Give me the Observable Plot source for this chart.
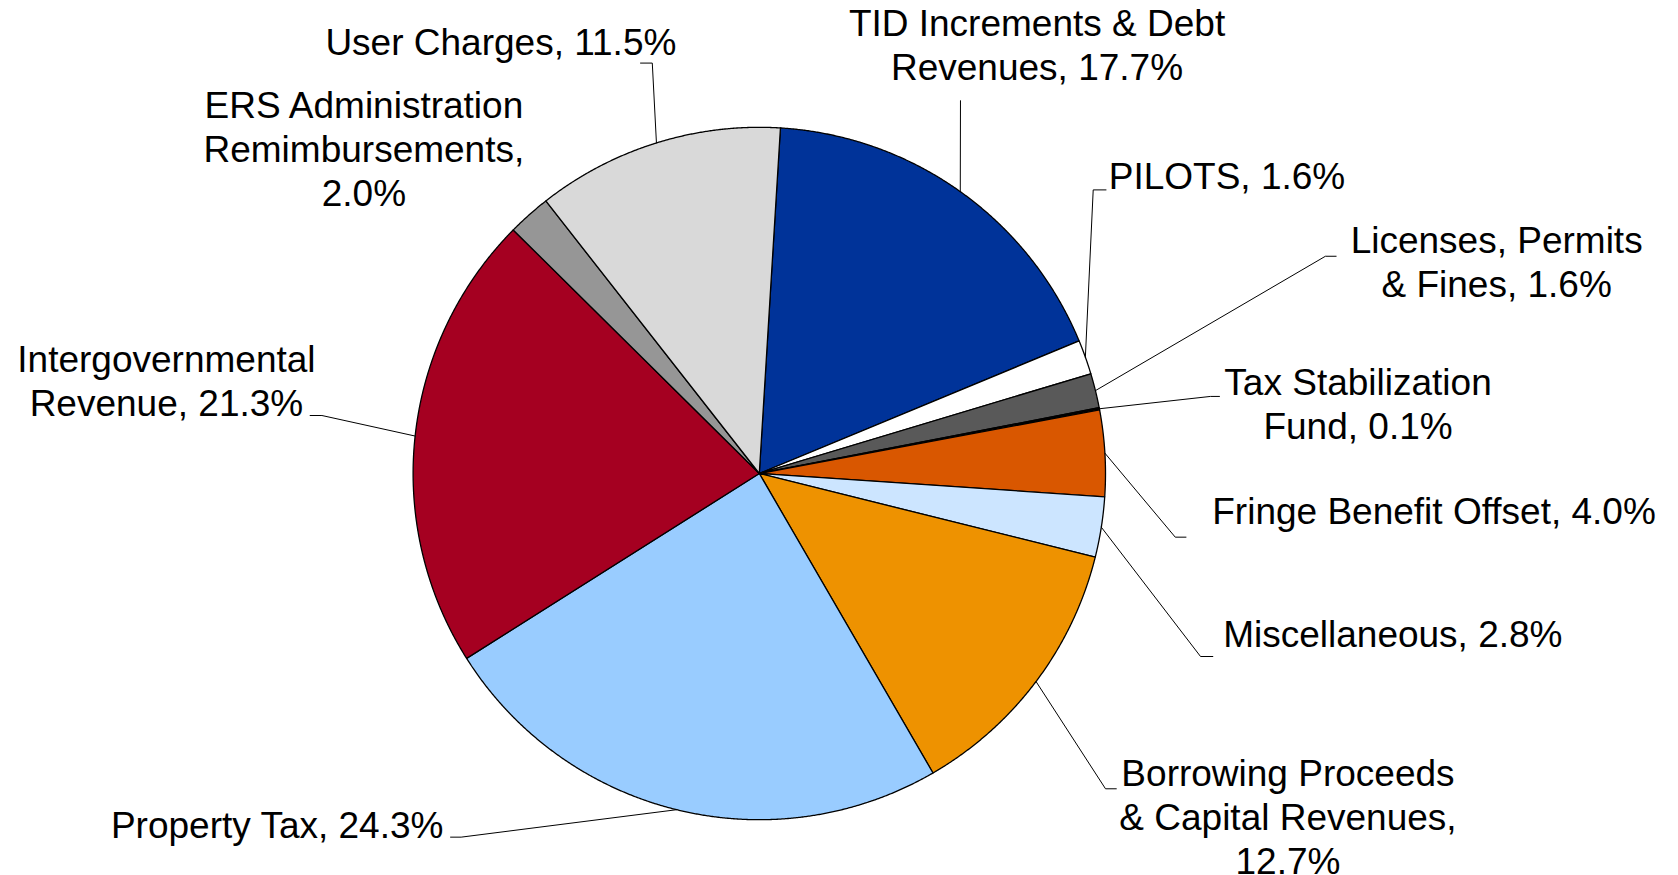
<!DOCTYPE html>
<html>
<head>
<meta charset="utf-8">
<script src="https://cdn.jsdelivr.net/npm/d3@7"></script>
<script src="https://cdn.jsdelivr.net/npm/@observablehq/plot@0.6"></script>
<style>
  html, body { margin: 0; padding: 0; background: #ffffff; overflow: hidden; }
  #chart svg { display: block; }
</style>
</head>
<body>
<div id="chart"></div>
<script>
// ---------- DATA ----------
const categories = [
  "TID Increments & Debt Revenues",
  "PILOTS",
  "Licenses, Permits & Fines",
  "Tax Stabilization Fund",
  "Fringe Benefit Offset",
  "Miscellaneous",
  "Borrowing Proceeds & Capital Revenues",
  "Property Tax",
  "Intergovernmental Revenue",
  "ERS Administration Remimbursements",
  "User Charges"
];
const values = [17.7, 1.6, 1.6, 0.1, 4.0, 2.8, 12.7, 24.3, 21.3, 2.0, 11.5];
const labelTexts = [
  "TID Increments & Debt\nRevenues, 17.7%",
  "PILOTS, 1.6%",
  "Licenses, Permits\n& Fines, 1.6%",
  "Tax Stabilization\nFund, 0.1%",
  "Fringe Benefit Offset, 4.0%",
  "Miscellaneous, 2.8%",
  "Borrowing Proceeds\n& Capital Revenues,\n12.7%",
  "Property Tax, 24.3%",
  "Intergovernmental\nRevenue, 21.3%",
  "ERS Administration\nRemimbursements,\n2.0%",
  "User Charges, 11.5%"
];

// ---------- STYLE ----------
const colors = ["#003399", "#ffffff", "#595959", "#000000", "#d95700", "#cce5ff",
                "#ee9200", "#99ccff", "#a50021", "#969696", "#d9d9d9"];

// ---------- LAYOUT (pie-radius units, y up, relative to pie centre) ----------
const W = 1678, H = 875;
const CX = 758.8, CY = 473.0, R = 346.2;
const startDeg = 3.5;
// label block centre, and leader-line label end (lx0) + elbow (lx1) at height ly; null = no leader
const labelLayout = [
  {u: 0.8022,  v: 1.2349, lx0: 0.5811,  lx1: 0.5811,  ly: 1.0773},
  {u: 1.3509,  v: 0.8563, lx0: 1.0015,  lx1: 0.9645,  ly: 0.8192},
  {u: 2.1298,  v: 0.6090, lx0: 1.6662,  lx1: 1.6352,  ly: 0.6275},
  {u: 1.7295,  v: 0.1978, lx0: 1.3292,  lx1: 1.3032,  ly: 0.2226},
  {u: 1.9490,  v: -0.1113, lx0: 1.2325, lx1: 1.2015,  ly: -0.1839},
  {u: 1.8300,  v: -0.4668, lx0: 1.3100, lx1: 1.2745,  ly: -0.5286},
  {u: 1.5270,  v: -0.9954, lx0: 1.0312, lx1: 1.0000,  ly: -0.9107},
  {u: -1.3926, v: -1.0170, lx0: -0.8918, lx1: -0.8612, ly: -1.0504},
  {u: -1.7125, v: 0.2658,  lx0: -1.2974, lx1: -1.2634, ly: 0.1675},
  {u: -1.1422, v: 0.9335,  lx0: null,    lx1: null,    ly: null},
  {u: -0.7465, v: 1.2427,  lx0: -0.3431, lx1: -0.3091, ly: 1.1855}
];

// ---------- BUILD ----------
const total = d3.sum(values);
const slices = [];
let acc = startDeg;
categories.forEach((name, i) => {
  const span = values[i] / total * 360;
  slices.push({name, a0: acc, a1: acc + span, mid: acc + span / 2, i});
  acc += span;
});
const rad = (deg) => deg * Math.PI / 180;
const pt = (deg, r) => [r * Math.sin(rad(deg)), r * Math.cos(rad(deg))];

// polygon vertices for each slice
const slicePts = [];
for (const s of slices) {
  slicePts.push({name: s.name, x: 0, y: 0});
  const n = Math.max(2, Math.ceil((s.a1 - s.a0) / 0.2) + 1);
  for (let k = 0; k < n; k++) {
    const a = s.a0 + (s.a1 - s.a0) * k / (n - 1);
    const [x, y] = pt(a, 1);
    slicePts.push({name: s.name, x, y});
  }
  slicePts.push({name: s.name, x: 0, y: 0});
}

// leader lines
const leaderPts = [];
slices.forEach((s, i) => {
  const L = labelLayout[i];
  if (L.lx0 == null) return;
  const [ex, ey] = pt(s.mid, 1);
  leaderPts.push({name: s.name, x: L.lx0, y: L.ly});
  leaderPts.push({name: s.name, x: L.lx1, y: L.ly});
  leaderPts.push({name: s.name, x: ex, y: ey});
});

const labelRows = slices.map((s, i) => ({name: s.name, text: labelTexts[i], x: labelLayout[i].u, y: labelLayout[i].v}));

const chart = Plot.plot({
  width: W,
  height: H,
  margin: 0,
  style: {background: "#ffffff", overflow: "visible"},
  x: {domain: [-CX / R, (W - CX) / R], axis: null},
  y: {domain: [-(H - CY) / R, CY / R], axis: null},
  color: {domain: categories, range: colors},
  marks: [
    Plot.line(slicePts, {
      x: "x", y: "y", z: "name", fill: "name",
      stroke: "#000000", strokeWidth: 1.3, strokeLinejoin: "round", curve: "linear"
    }),
    Plot.line(leaderPts, {
      x: "x", y: "y", z: "name",
      stroke: "#000000", strokeWidth: 1, curve: "linear"
    }),
    Plot.text(labelRows, {
      x: "x", y: "y", text: "text", dy: -2,
      fontSize: 37, lineHeight: 1.19,
      fontFamily: "'Liberation Sans', Arial, sans-serif",
      textAnchor: "middle", lineAnchor: "middle", fill: "#000000"
    })
  ]
});
document.getElementById("chart").appendChild(chart);
</script>
</body>
</html>
